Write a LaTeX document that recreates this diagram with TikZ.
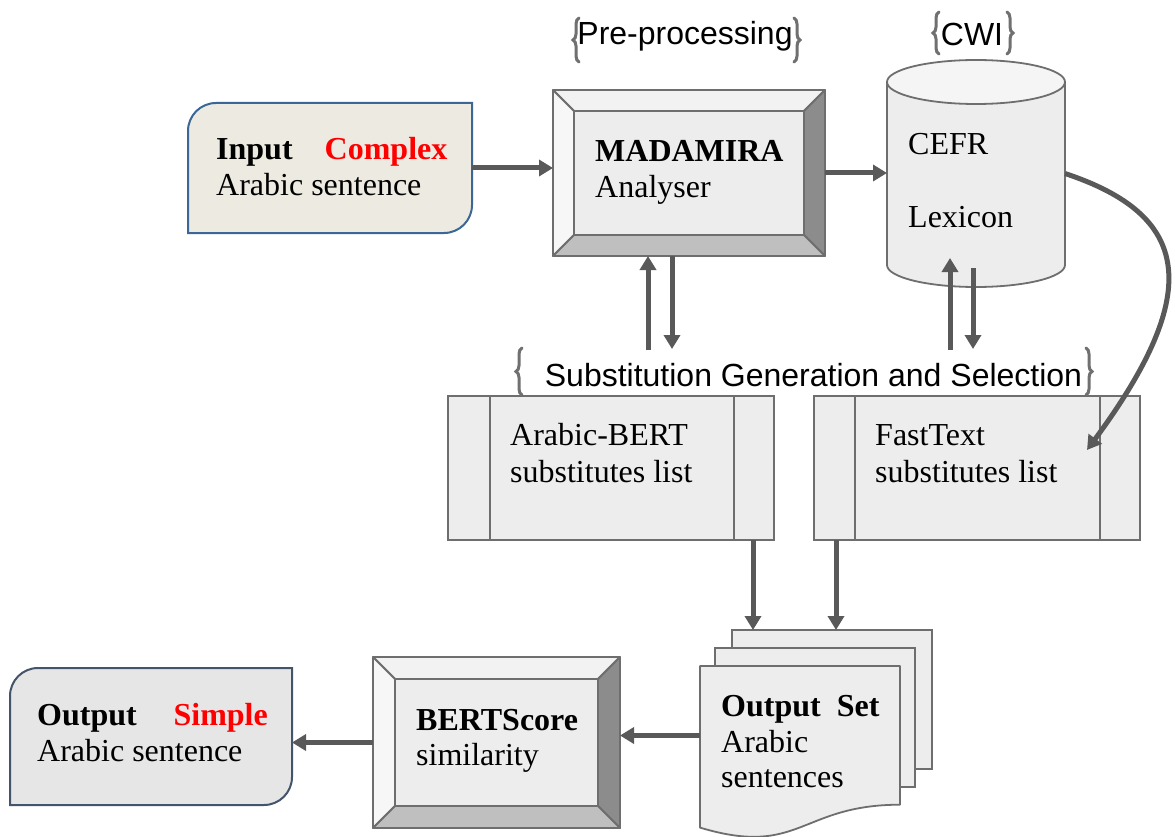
\documentclass[tikz,border=0pt]{standalone}
\usepackage{fontspec}
\setmainfont{Liberation Serif}
\setsansfont{Liberation Sans}
\usetikzlibrary{arrows.meta,calc,decorations.pathreplacing}

\definecolor{arrowgray}{HTML}{595959}
\definecolor{edgegray}{HTML}{6E6E6E}
\definecolor{panelfill}{HTML}{EDEDED}
\definecolor{lidfill}{HTML}{F5F5F5}
\definecolor{inputfill}{HTML}{EDEBE1}
\definecolor{inputedge}{HTML}{3A6796}
\definecolor{outputfill}{HTML}{E6E6E6}
\definecolor{outputedge}{HTML}{44546A}
\definecolor{bevtop}{HTML}{F2F2F2}
\definecolor{bevleft}{HTML}{F7F7F7}
\definecolor{bevright}{HTML}{8C8C8C}
\definecolor{bevbottom}{HTML}{BFBFBF}
\definecolor{bracegray}{HTML}{707070}
\definecolor{hot}{HTML}{FF0000}

\tikzset{
  arr/.style={draw=arrowgray, line width=5pt, -{Triangle[length=14pt,width=16pt]}},
  frame/.style={draw=none, inner sep=0pt, outer sep=0pt},
  txt/.style={font=\fontsize{32}{38}\selectfont, inner sep=0pt, anchor=base west},
  lbl/.style={font=\sffamily\fontsize{32}{38}\selectfont, inner sep=0pt, anchor=base},
  edge/.style={draw=edgegray, line width=1.8pt, line join=round},
  panel/.style={frame, draw=edgegray, line width=1.8pt, fill=panelfill},
  brc/.style={draw=bracegray, line width=3pt, line cap=round, decorate, decoration={brace, amplitude=6pt}},
}

% bevelled panel drawn around a frame node: #1 node name, #2 bevel depth
\newcommand\bevelpanel[2]{%
  \coordinate (#1inw) at ($(#1.north west)+(#2,-#2)$);
  \coordinate (#1ine) at ($(#1.north east)+(-#2,-#2)$);
  \coordinate (#1isw) at ($(#1.south west)+(#2,#2)$);
  \coordinate (#1ise) at ($(#1.south east)+(-#2,#2)$);
  \filldraw[edge, fill=panelfill] (#1inw) rectangle (#1ise);
  \filldraw[edge, fill=bevtop] (#1.north west) -- (#1.north east) -- (#1ine) -- (#1inw) -- cycle;
  \filldraw[edge, fill=bevleft] (#1.north west) -- (#1inw) -- (#1isw) -- (#1.south west) -- cycle;
  \filldraw[edge, fill=bevright] (#1.north east) -- (#1.south east) -- (#1ise) -- (#1ine) -- cycle;
  \filldraw[edge, fill=bevbottom] (#1.south west) -- (#1isw) -- (#1ise) -- (#1.south east) -- cycle;
}

\begin{document}
\begin{tikzpicture}[x=1pt,y=1pt]
\useasboundingbox (0,0) rectangle (1175,-837);
\fill[white] (0,0) rectangle (1175,-837);

% ---------- input sentence ----------
\node[frame, minimum width=284pt, minimum height=130pt] (inp) at (330,-168) {};
\filldraw[draw=inputedge, fill=inputfill, line width=2pt]
  (inp.north east) -- ([xshift=28pt]inp.north west) arc[start angle=90,end angle=180,radius=28pt]
  -- (inp.south west) -- ([xshift=-28pt]inp.south east) arc[start angle=270,end angle=360,radius=28pt] -- cycle;
\node[txt] (inpA) at (216,-160) {\bfseries Input\hspace{1em}\textcolor{hot}{Complex}};
\node[txt] (inpB) at (216,-196) {Arabic sentence};

% ---------- MADAMIRA analyser ----------
\node[frame, minimum width=272pt, minimum height=166pt] (mad) at (689,-173) {};
\bevelpanel{mad}{21}
\node[txt] (madA) at (595,-162) {\bfseries MADAMIRA};
\node[txt] (madB) at (595,-198) {Analyser};

% ---------- CEFR lexicon (cylinder) ----------
\node[frame, minimum width=178pt, minimum height=227pt] (cyl) at (976,-173.5) {};
\filldraw[edge, fill=panelfill]
  ([yshift=-22pt]cyl.north west) -- ([yshift=22pt]cyl.south west)
  arc[start angle=180,end angle=360,x radius=89pt,y radius=22pt]
  -- ([yshift=-22pt]cyl.north east) -- cycle;
\filldraw[edge, fill=lidfill] ([yshift=-22pt]cyl.north) ellipse[x radius=89pt, y radius=22pt];
\node[txt] (cylA) at (908,-155) {CEFR};
\node[txt] (cylB) at (908,-228) {Lexicon};

% ---------- stage labels ----------
\node[lbl] (pre) at (685,-45) {Pre-processing};
\draw[brc] (579,-62) -- (579,-18);
\draw[brc] (794,-18) -- (794,-62);

\node[lbl] (cwi) at (972,-46) {CWI};
\draw[brc] (939,-54) -- (939,-12);
\draw[brc] (1007,-12) -- (1007,-54);

\node[lbl] (sgs) at (813.5,-386) {Substitution Generation and Selection};
\draw[brc] (522,-395) -- (522,-348);
\draw[brc] (1086,-348) -- (1086,-395);

% ---------- substitute lists ----------
\node[panel, minimum width=326pt, minimum height=144pt] (bert) at (611,-468) {};
\draw[edge] ([xshift=42pt]bert.north west) -- ([xshift=42pt]bert.south west);
\draw[edge] ([xshift=-40pt]bert.north east) -- ([xshift=-40pt]bert.south east);
\node[txt] (bertA) at (510,-445) {Arabic-BERT};
\node[txt] (bertB) at (510,-482) {substitutes list};

\node[panel, minimum width=326pt, minimum height=144pt] (ftx) at (977,-468) {};
\draw[edge] ([xshift=41pt]ftx.north west) -- ([xshift=41pt]ftx.south west);
\draw[edge] ([xshift=-40pt]ftx.north east) -- ([xshift=-40pt]ftx.south east);
\node[txt] (ftxA) at (875,-445) {FastText};
\node[txt] (ftxB) at (875,-482) {substitutes list};

% ---------- output set (stacked documents) ----------
\node[panel, minimum width=200pt, minimum height=139pt] (pgback) at (832,-699.5) {};
\node[panel, minimum width=200pt, minimum height=139pt] (pgmid) at (815,-717.5) {};
\node[frame, minimum width=200pt, minimum height=173pt] (pgfront) at (800,-752.5) {};
\filldraw[edge, fill=panelfill]
  (pgfront.north west) -- (pgfront.north east) -- ([yshift=34.3pt]pgfront.south east)
  .. controls ([yshift=34.3pt]pgfront.south) and ([yshift=-18.6pt]pgfront.south) .. ([yshift=11.4pt]pgfront.south west)
  -- cycle;
\node[txt] (pgA) at (721,-716) {\bfseries Output\ \ Set};
\node[txt] (pgB) at (721,-752) {Arabic};
\node[txt] (pgC) at (721,-787) {sentences};

% ---------- BERTScore similarity ----------
\node[frame, minimum width=247pt, minimum height=171pt] (bs) at (496.5,-742.5) {};
\bevelpanel{bs}{22}
\node[txt] (bsA) at (416,-730) {\bfseries BERTScore};
\node[txt] (bsB) at (416,-765) {similarity};

% ---------- output sentence ----------
\node[frame, minimum width=282pt, minimum height=137pt] (out) at (151,-736.5) {};
\filldraw[draw=outputedge, fill=outputfill, line width=2pt]
  (out.north east) -- ([xshift=28pt]out.north west) arc[start angle=90,end angle=180,radius=28pt]
  -- (out.south west) -- ([xshift=-28pt]out.south east) arc[start angle=270,end angle=360,radius=28pt] -- cycle;
\node[txt] (outA) at (37,-725) {\bfseries Output\hspace{1.15em}\textcolor{hot}{Simple}};
\node[txt] (outB) at (37,-761) {Arabic sentence};

% ---------- connectors ----------
\draw[arr] (inp.east) -- (inp.east -| mad.west);
\draw[arr] (mad.east) -- (mad.east -| cyl.west);

\coordinate (madUp) at (648,-350);
\coordinate (madDown) at (672,-349);
\draw[arr] (madUp) -- (madUp |- mad.south);
\draw[arr] (madDown |- mad.south) -- (madDown);

\coordinate (cylUp) at (950,-350);
\coordinate (cylUpTip) at (950,-258);
\coordinate (cylDownTop) at (973,-268);
\coordinate (cylDown) at (973,-349);
\draw[arr] (cylUp) -- (cylUpTip);
\draw[arr] (cylDownTop) -- (cylDown);

\coordinate (ftxIn) at (1087,-450);
\draw[arr] (cyl.east) .. controls (1190,-215) and (1205,-290) .. (ftxIn);

\draw[arr] ([xshift=142pt]bert.south) -- ([xshift=142pt]bert.south |- pgback.north);
\draw[arr] ([xshift=-141pt]ftx.south) -- ([xshift=-141pt]ftx.south |- pgback.north);

\draw[arr] ([yshift=17pt]pgfront.west) -- ([yshift=17pt]pgfront.west -| bs.east);
\draw[arr] (bs.west) -- (bs.west -| out.east);
\end{tikzpicture}
\end{document}
